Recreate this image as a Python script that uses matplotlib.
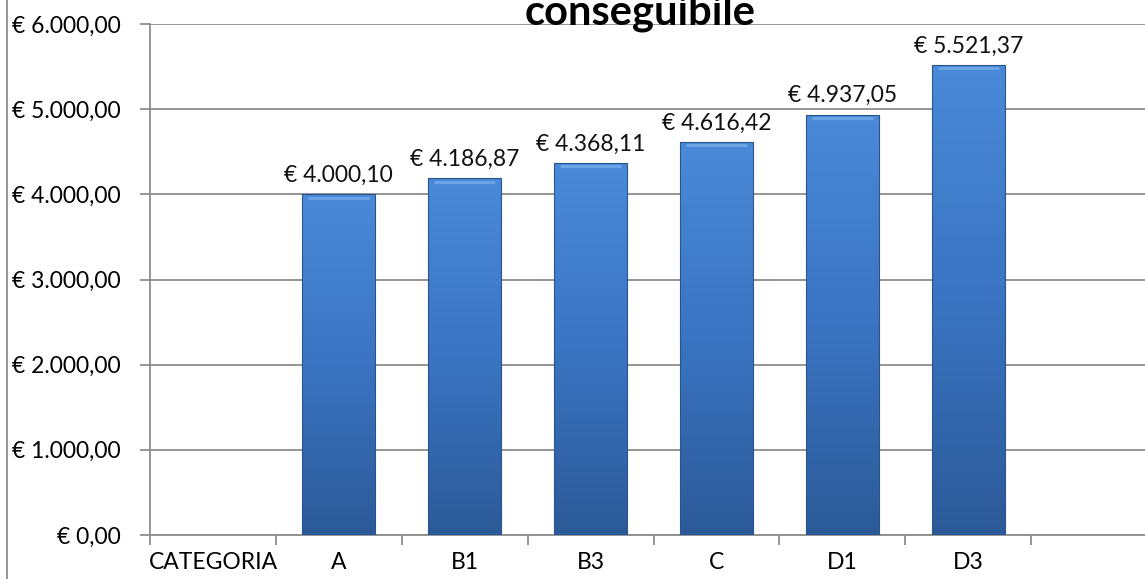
import numpy as np
import matplotlib.pyplot as plt
from matplotlib.ticker import FuncFormatter, FixedLocator
from matplotlib.colors import LinearSegmentedColormap
from matplotlib.lines import Line2D

plt.rcParams['font.family'] = ['Lato', 'DejaVu Sans']

title = "conseguibile"
categories = ['CATEGORIA', 'A', 'B1', 'B3', 'C', 'D1', 'D3', '']
values = [np.nan, 4000.10, 4186.87, 4368.11, 4616.42, 4937.05, 5521.37, np.nan]
yticks = [0, 1000, 2000, 3000, 4000, 5000, 6000]


def euro(v, pos=None):
    # italian style: thousands with dot, decimals with comma
    s = f"{v:,.2f}".replace(',', 'X').replace('.', ',').replace('X', '.')
    return "€ " + s


fig = plt.figure(figsize=(11.45, 5.79), dpi=100)
ax = fig.add_axes([150 / 1145, 1 - 535 / 579, 1007 / 1145, 511 / 579])

x = np.arange(len(categories))
bars = ax.bar(x, np.nan_to_num(values), width=0.58, color='#3a72bf', zorder=3)

# gradient fill, lighter at the top like the excel bevel style
cmap = LinearSegmentedColormap.from_list('b', ['#2c5a98', '#3a74c2', '#4a8ad8'])
grad = np.linspace(0, 1, 256).reshape(-1, 1)
for b in bars:
    if b.get_height() <= 0:
        continue
    x0, w, h = b.get_x(), b.get_width(), b.get_height()
    im = ax.imshow(grad, cmap=cmap, aspect='auto', origin='lower',
                   extent=[x0, x0 + w, 0, h], zorder=3)
    im.set_clip_path(b)
    b.set_facecolor('none')
    b.set_edgecolor('#2a548c')
    b.set_linewidth(0.8)
    b.set_zorder(4)
    # bevel highlight on the top edge
    ax.plot([x0 + w * 0.08, x0 + w * 0.92], [h - 40, h - 40],
            color='#6fa6e8', lw=2, zorder=5, solid_capstyle='butt')

for xi, v in zip(x, values):
    if np.isnan(v):
        continue
    ax.annotate(euro(v), (xi, v), xytext=(0, 6), textcoords='offset points',
                ha='center', va='bottom', fontsize=16.5, color='#111111')

ax.set_xlim(-0.5, len(categories) - 0.5)
ax.set_ylim(0, 6000)
ax.set_yticks(yticks)
ax.yaxis.set_major_formatter(FuncFormatter(euro))
ax.set_xticks(x)
ax.set_xticklabels(categories)
ax.xaxis.set_minor_locator(FixedLocator(np.arange(-0.5, len(categories), 1)))
ax.tick_params(axis='x', which='major', length=0, pad=12, labelsize=16.5)
ax.tick_params(axis='x', which='minor', length=7, color='#8c8c8c', width=1.3)
ax.tick_params(axis='y', length=7, color='#8c8c8c', width=1.3, pad=14,
               labelsize=16.5)

ax.grid(axis='y', color='#8c8c8c', lw=1.3, zorder=0)
for s in ['top', 'right']:
    ax.spines[s].set_visible(False)
for s in ['left', 'bottom']:
    ax.spines[s].set_color('#8c8c8c')
    ax.spines[s].set_linewidth(1.3)

fig.text(640 / 1145, 1 - 24 / 579, title, ha='center', va='baseline',
         fontsize=30, fontweight='bold')

# chart area border on the left
fig.add_artist(Line2D([7 / 1145, 7 / 1145], [0, 1], color='#8c8c8c', lw=1.3))

plt.savefig('out.png', dpi=100)
